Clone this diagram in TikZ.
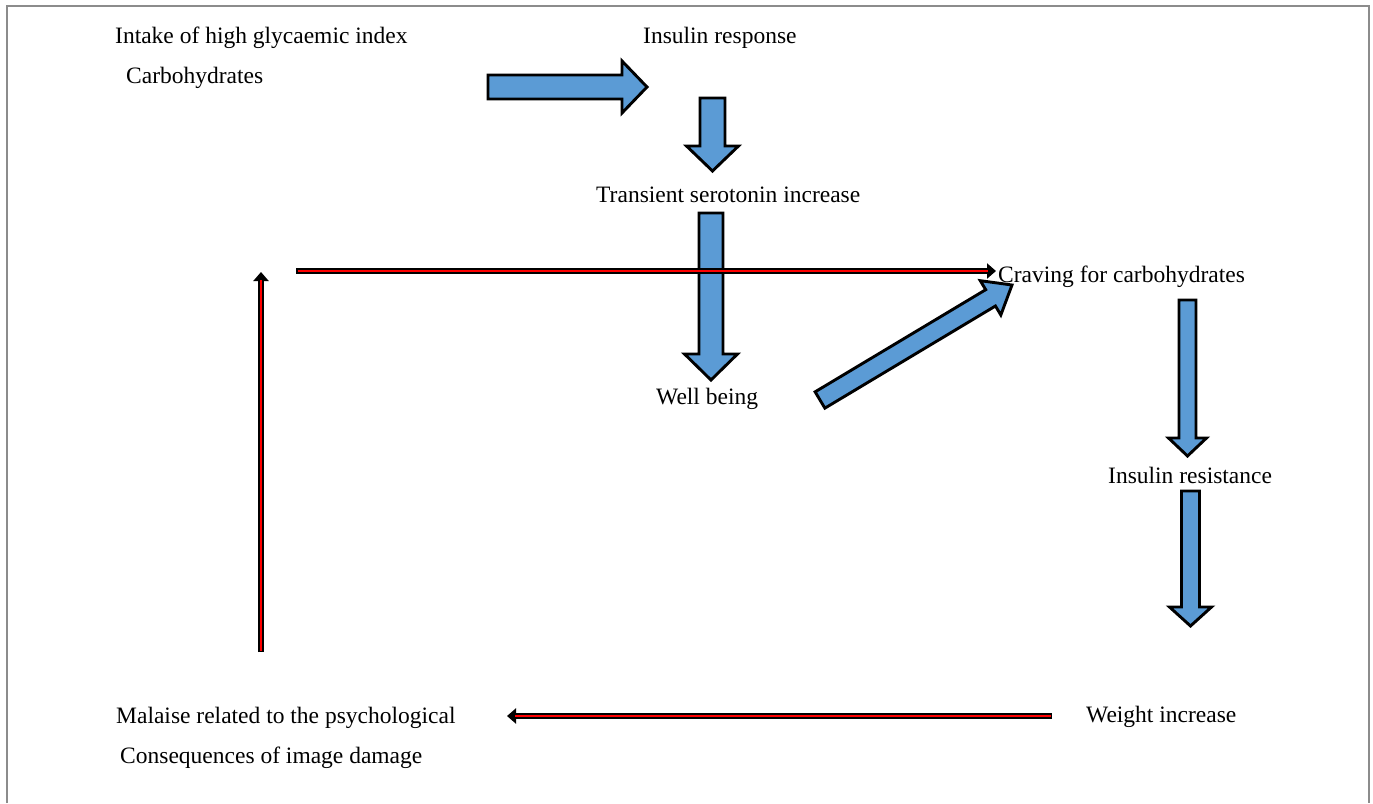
\documentclass[tikz,border=0pt]{standalone}
\usepackage{fontspec}
\setmainfont{Liberation Serif}
\usetikzlibrary{calc,arrows.meta}
\definecolor{arrowblue}{HTML}{5B9BD5}
\definecolor{framegray}{HTML}{8C8C8C}
% #1 tail, #2 tip, #3 half shaft width, #4 half head width, #5 head length
\newcommand\blockarrow[5]{%
  \coordinate (ba-base) at ($(#2)!#5!(#1)$);
  \draw[blockstyle] ($(#1)!#3!90:(#2)$) -- ($(ba-base)!#3!90:(#2)$) --
    ($(ba-base)!#4!90:(#2)$) -- (#2) -- ($(ba-base)!#4!-90:(#2)$) --
    ($(ba-base)!#3!-90:(#2)$) -- ($(#1)!#3!-90:(#2)$) -- cycle;}
\begin{document}
\begin{tikzpicture}[x=1pt,y=-1pt,
  lbl/.style={anchor=base west, inner sep=0pt, font=\fontsize{23.5}{27}\selectfont},
  blockstyle/.style={fill=arrowblue, draw=black, line width=2.9pt, line join=miter},
  redarrow/.style={draw=black, line width=6.5pt, -{Triangle[length=9pt,width=15pt]},
    postaction={draw=red, line width=2.3pt, arrows=-, shorten >=8pt, shorten <=1.5pt}},
  frameline/.style={draw=framegray, line width=1.2pt}]
\useasboundingbox (0,0) rectangle (1373,803);
% page frame
\coordinate (fr-bl) at (7,803);
\coordinate (fr-tl) at (7,6);
\coordinate (fr-tr) at (1369,6);
\coordinate (fr-br) at (1369,803);
\draw[frameline] (fr-bl) -- (fr-tl) -- (fr-tr) -- (fr-br);

% texts
\node[lbl] (intake) at (115,43) {Intake of high glycaemic index};
\node[lbl] (carbs) at (126,83) {Carbohydrates};
\node[lbl] (insresp) at (643,43) {Insulin response};
\node[lbl] (sero) at (596,202) {Transient serotonin increase};
\node[lbl] (well) at (656,404) {Well being};
\node[lbl] (crave) at (998,282) {Craving for carbohydrates};
\node[lbl] (insres) at (1108,483) {Insulin resistance};
\node[lbl] (weight) at (1086,722) {Weight increase};
\node[lbl] (malaise) at (116,723) {Malaise related to the psychological};
\node[lbl] (conseq) at (120,763) {Consequences of image damage};

% block arrow end points
\coordinate (a1-tail) at (488,87);
\coordinate (a1-tip) at (647,87);
\coordinate (a2-tail) at (712.5,98);
\coordinate (a2-tip) at (712.5,171);
\coordinate (a3-tail) at (711,213);
\coordinate (a3-tip) at (711,380);
\coordinate (a4-tail) at (820,400);
\coordinate (a4-tip) at (1012,285);
\coordinate (a5-tail) at (1187.5,300);
\coordinate (a5-tip) at (1187.5,456);
\coordinate (a6-tail) at (1190.5,491);
\coordinate (a6-tip) at (1190.5,626);

\blockarrow{a1-tail}{a1-tip}{12pt}{26pt}{25pt}
\blockarrow{a2-tail}{a2-tip}{12.5pt}{26pt}{25pt}
\blockarrow{a3-tail}{a3-tip}{12pt}{26.5pt}{26pt}
\blockarrow{a4-tail}{a4-tip}{9.5pt}{20pt}{25pt}
\blockarrow{a5-tail}{a5-tip}{8.5pt}{19pt}{18pt}
\blockarrow{a6-tail}{a6-tip}{9pt}{21pt}{19pt}

% red feedback arrows
\coordinate (r1-start) at (296,271);
\coordinate (r1-end) at (996,271);
\coordinate (r2-start) at (261,652);
\coordinate (r2-end) at (261,272);
\coordinate (r3-start) at (1052,716);
\coordinate (r3-end) at (507,716);
\draw[redarrow] (r1-start) -- (r1-end);
\draw[redarrow] (r2-start) -- (r2-end);
\draw[redarrow] (r3-start) -- (r3-end);
\end{tikzpicture}
\end{document}
